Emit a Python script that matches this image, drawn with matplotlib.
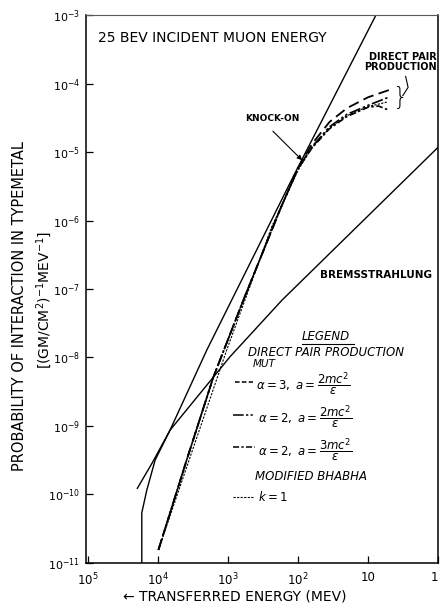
import numpy as np
import matplotlib
matplotlib.use('Agg')
import matplotlib.pyplot as plt

# knock-on (transferred energy MeV, probability)
knock_E = [1.71e4, 1.71e4, 1.45e4, 1.10e4, 6.75e3, 2.01e3, 117, 7.7]
knock_P = [1e-11, 5.4e-11, 1.16e-10, 3.2e-10, 8.7e-10, 1.29e-8, 4.4e-6, 1e-3]

# bremsstrahlung
brems_E = [1.98e4, 1.2e4, 6.75e3, 935, 169, 1]
brems_P = [1.23e-10, 2.95e-10, 8.7e-10, 1.03e-8, 6.9e-8, 1.17e-5]

# direct pair production, common lower part
trunk_E = [9.9e3, 3.9e3, 1.62e3, 604, 178, 100]
trunk_P = [1.55e-11, 3.2e-10, 5.2e-9, 6.9e-8, 1.5e-6, 5.8e-6]

# upper parts of the three MUT curves
a3_E = [63, 35.5, 20, 10, 4.9]
a3_P = [1.32e-5, 2.75e-5, 4.37e-5, 6.3e-5, 8.1e-5]
a2_2_E = [63, 35.5, 20, 10, 5.1]
a2_2_P = [1.2e-5, 2.34e-5, 3.55e-5, 4.8e-5, 6.3e-5]
a2_3_E = [63, 35.5, 20, 10, 7.1, 5.1]
a2_3_P = [1.15e-5, 2.19e-5, 3.3e-5, 4.5e-5, 4.7e-5, 4.1e-5]

# modified bhabha k=1
bhabha_E = [9.9e3, 1.045e3, 238, 100, 63, 35.5, 20, 10, 5.2]
bhabha_P = [1.55e-11, 1.29e-8, 8.1e-7, 5.4e-6, 1.17e-5, 2.24e-5, 3.4e-5, 4.6e-5, 5.4e-5]

xticks = [1e5, 1e4, 1e3, 1e2, 10, 1]
xlabels = [r'$10^5$', r'$10^4$', r'$10^3$', r'$10^2$', '10', '1']
yticks = [10.0**k for k in range(-11, -2)]
ylabels = [r'$10^{%d}$' % k for k in range(-11, -2)]

ls_a3 = (0, (6, 3))
ls_a2_2 = (0, (7, 1.5, 1.5, 1.5, 1.5, 1.5))
ls_a2_3 = (0, (4, 1.5, 1.5, 1.5))
ls_bh = (0, (2, 1.2))

fig = plt.figure(figsize=(4.4, 6.06), dpi=100)
ax = fig.add_axes([0.1955, 0.071, 0.8, 0.9042])
ax.set_xscale('log')
ax.set_yscale('log')
ax.set_xlim(10**5.03, 1)
ax.set_ylim(1e-11, 1e-3)

ax.plot(knock_E, knock_P, color='k', lw=1.0)
ax.plot(brems_E, brems_P, color='k', lw=1.0)
ax.plot(trunk_E + a3_E, trunk_P + a3_P, color='k', lw=1.3, ls=ls_a3)
ax.plot(trunk_E + a2_2_E, trunk_P + a2_2_P, color='k', lw=1.2, ls=ls_a2_2)
ax.plot(trunk_E + a2_3_E, trunk_P + a2_3_P, color='k', lw=1.2, ls=ls_a2_3)
ax.plot(bhabha_E, bhabha_P, color='k', lw=0.8, ls=ls_bh)

ax.set_xticks(xticks)
ax.set_xticklabels(xlabels)
ax.set_yticks(yticks)
ax.set_yticklabels(ylabels)
ax.minorticks_off()
ax.tick_params(direction='in', length=5, width=0.9, labelsize=8)
ax.tick_params(axis='x', pad=6, labelsize=8.5)
ax.tick_params(axis='y', pad=4)
ax.get_xticklabels()[-1].set_horizontalalignment('right')
for s in ['left', 'bottom', 'right']:
    ax.spines[s].set_linewidth(1.1)
ax.spines['top'].set_linewidth(0.8)
ax.spines['top'].set_linestyle((0, (3, 1)))
ax.spines['top'].set_color('0.35')

T = ax.transAxes
ax.text(0.034, 0.958, '25 BEV INCIDENT MUON ENERGY', transform=T, fontsize=10,
        va='center', ha='left')
ax.text(0.997, 0.914, 'DIRECT PAIR\nPRODUCTION', transform=T, fontsize=7,
        weight='bold', ha='right', va='center', linespacing=1.0)
ax.text(4.4, 6.2e-5, '}', fontsize=17, ha='left', va='center', weight='light')
ax.plot([0.900, 0.915, 0.908], [0.853, 0.868, 0.888], transform=T,
        color='k', lw=0.8)
ax.annotate('KNOCK-ON', xy=(0.614, 0.735), xytext=(0.452, 0.812),
            textcoords=T, xycoords=T, fontsize=6.5, weight='bold',
            va='center', ha='left',
            arrowprops=dict(arrowstyle='-|>', color='k', lw=0.8,
                            mutation_scale=7, shrinkA=6, shrinkB=0,
                            relpos=(0.35, 0.0)))
ax.text(0.665, 0.526, 'BREMSSTRAHLUNG', transform=T, fontsize=7.5,
        weight='bold', va='center', ha='left')

# legend
lf = dict(transform=T, fontsize=8.5, style='italic', va='center', ha='left')
ax.text(0.614, 0.414, 'LEGEND', **lf)
ax.plot([0.614, 0.762], [0.399, 0.399], transform=T, color='k', lw=0.8)
ax.text(0.460, 0.384, 'DIRECT PAIR PRODUCTION', **lf)
ax.text(0.474, 0.364, 'MUT', transform=T, fontsize=7.5, style='italic',
        va='center', ha='left')
ax.plot([0.423, 0.474], [0.330, 0.330], transform=T, color='k', lw=1.1, ls=(0, (3, 1.5)))
ax.text(0.483, 0.326, r'$\mathit{\alpha = 3,\ a = \dfrac{2mc^2}{\epsilon}}$', **lf)
ax.plot([0.418, 0.480], [0.270, 0.270], transform=T, color='k', lw=1.1, ls=ls_a2_2)
ax.text(0.489, 0.266, r'$\mathit{\alpha = 2,\ a = \dfrac{2mc^2}{\epsilon}}$', **lf)
ax.plot([0.418, 0.480], [0.212, 0.212], transform=T, color='k', lw=1.1, ls=ls_a2_3)
ax.text(0.489, 0.206, r'$\mathit{\alpha = 2,\ a = \dfrac{3mc^2}{\epsilon}}$', **lf)
ax.text(0.480, 0.157, 'MODIFIED BHABHA', **lf)
ax.plot([0.418, 0.474], [0.120, 0.120], transform=T, color='k', lw=0.8, ls=ls_bh)
ax.text(0.489, 0.120, r'$\mathit{k = 1}$', **lf)

fig.text(0.045, 0.495, 'PROBABILITY OF INTERACTION IN TYPEMETAL', rotation=90,
         fontsize=10.5, ha='center', va='center')
fig.text(0.100, 0.505, r'[(GM/CM$^2$)$^{-1}$MEV$^{-1}$]', rotation=90,
         fontsize=10, ha='center', va='center')
fig.text(0.534, 0.015, '\u2190 TRANSFERRED ENERGY (MEV)', fontsize=10,
         ha='center', va='center')

fig.savefig('out.png', dpi=100)
